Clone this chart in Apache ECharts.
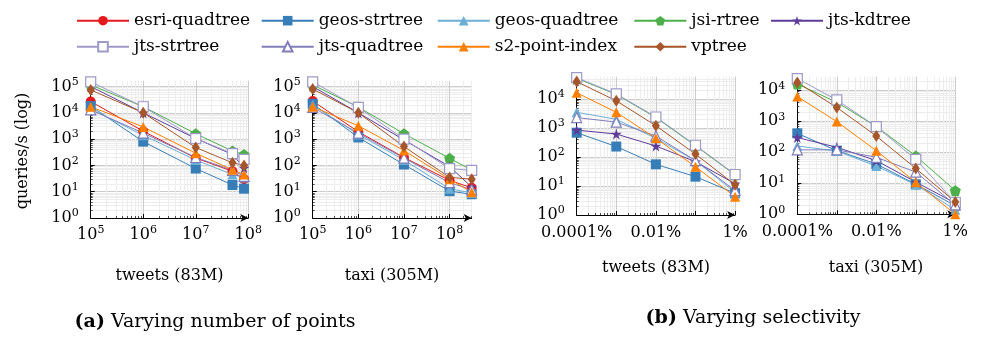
<!DOCTYPE html>
<html><head><meta charset="utf-8">
<script src="https://cdn.jsdelivr.net/npm/echarts@6/dist/echarts.min.js"></script>
<style>html,body{margin:0;padding:0;background:#fff}#c{width:982px;height:337px}</style>
</head><body><div id="c"></div><script>
// ---------------- DATA ----------------
const seriesNames = ['esri-quadtree','geos-strtree','geos-quadtree','jsi-rtree','jts-kdtree','jts-strtree','jts-quadtree','s2-point-index','vptree'];

// (a) varying number of points: x = number of points
const tweetsPointsX = [1e5, 1e6, 1e7, 5e7, 8.3e7];
const taxiPointsX   = [1e5, 1e6, 1e7, 1e8, 3.05e8];
// (b) varying selectivity: x = selectivity in percent
const selectivityX  = [0.0001, 0.001, 0.01, 0.1, 1];

// queries/s, rows in seriesNames order
const tweetsPointsY = [
  [27000, 2000, 190, 60, 30],
  [18000, 800, 76, 18, 13],
  [14000, 1400, 160, 45, 35],
  [115000, 17000, 1600, 350, 260],
  [100000, 10000, 1050, 260, 80],
  [150000, 17000, 1050, 280, 170],
  [13000, 1700, 200, 65, 38],
  [17000, 2900, 290, 68, 45],
  [74000, 10000, 480, 125, 100]
];
const taxiPointsY = [
  [28000, 1900, 200, 27, 14],
  [22000, 1150, 108, 10.5, 8],
  [20000, 1500, 160, 13, 9],
  [115000, 16500, 1600, 186, 67],
  [100000, 10000, 930, 90, 15],
  [150000, 16000, 1000, 75, 65],
  [16000, 1700, 190, 22, 12],
  [17000, 3200, 370, 30, 9.5],
  [80000, 10000, 520, 35, 30]
];
const tweetsSelY = [
  [],
  [690, 230, 56, 21, 5.6],
  [3500, 2000, 440, 75, 6],
  [52000, 14500, 2300, 245, 24],
  [850, 620, 240, 69, 12],
  [55000, 15000, 2400, 255, 25],
  [2300, 1600, 530, 75, 7],
  [16500, 3500, 440, 46, 4.3],
  [40000, 8700, 1200, 126, 11]
];
const taxiSelY = [
  [],
  [410, 113, 42, 9.3, 1.9],
  [160, 110, 36, 9, 1.4],
  [16000, 4100, 680, 76, 5.8],
  [300, 145, 54, 11, 2.3],
  [24000, 4900, 670, 59, 2.4],
  [120, 120, 69, 23, 2.0],
  [6300, 980, 113, 10.8, 1.0],
  [18000, 2800, 335, 30, 2.5]
];
// tick labels
const selTickValues = [0.0001, 0.01, 1];
const selTickLabels = ['0.0001%', '0.01%', '1%'];
const pointsTickValues = [1e5, 1e6, 1e7, 1e8];
const yTickValues = [1, 10, 100, 1000, 10000, 100000];

// ---------------- STYLE ----------------
const FONT = 'DejaVu Serif';
const colors = ['#e41a1c','#377eb8','#6baed6','#4daf4a','#5e3c99','#9e9ac8','#807dba','#ff7f00','#a65628'];
const fills  = ['#e41a1c','#377eb8','#6baed6','#4daf4a','#5e3c99','#ffffff','#ffffff','#ff7f00','#a65628'];
const PENT = 'path://M0,-10L9.51,-3.09L5.88,8.09L-5.88,8.09L-9.51,-3.09Z';
const STAR = 'path://M0,-10L2.245,-3.09L9.51,-3.09L3.633,1.18L5.878,8.09L0,3.82L-5.878,8.09L-3.633,1.18L-9.51,-3.09L-2.245,-3.09Z';
const symbols = ['circle','rect','triangle',PENT,STAR,'rect','triangle','triangle','diamond'];
const sizes = [10,10,10,11,11,10,10,10,[8,12]];

function minorTicks(min, max) {
  const out = [];
  for (let d = Math.floor(Math.log10(min)); d <= Math.ceil(Math.log10(max)); d++) {
    for (let k = 2; k <= 9; k++) {
      const v = k * Math.pow(10, d);
      if (v > min * 1.0001 && v < max * 0.9999) out.push(v);
    }
  }
  return out;
}
function majorTicks(min, max) {
  const out = [];
  for (let d = Math.ceil(Math.log10(min) - 1e-9); d <= Math.floor(Math.log10(max) + 1e-9); d++) out.push(Math.pow(10, d));
  return out;
}
const powFmt = v => '{b|10}{e|' + Math.round(Math.log10(v)) + '}';
const selFmt = v => {
  const n = Math.round(Math.log10(v));
  const i = selTickValues.findIndex(t => Math.round(Math.log10(t)) === n);
  return i >= 0 ? selTickLabels[i] : '';
};
const rich = {
  b: {fontFamily: FONT, fontSize: 16, lineHeight: 20, color: '#000'},
  e: {fontFamily: FONT, fontSize: 11, lineHeight: 11, verticalAlign: 'top', color: '#000'}
};

const panels = [
  {xs: tweetsPointsX, ys: tweetsPointsY, grid: {left: 90.7, top: 80.7, width: 157.6, height: 137.3},
   xMin: 1e5, xMax: 1e8, yMin: 1, yMax: 1.66e5, xLabelVals: pointsTickValues, xFmt: powFmt, xMargin: 7},
  {xs: taxiPointsX, ys: taxiPointsY, grid: {left: 312.7, top: 80.7, width: 159, height: 137.3},
   xMin: 1e5, xMax: 3.05e8, yMin: 1, yMax: 1.66e5, xLabelVals: pointsTickValues, xFmt: powFmt, xMargin: 7},
  {xs: selectivityX, ys: tweetsSelY, grid: {left: 576.7, top: 76.7, width: 158.4, height: 138.3},
   xMin: 0.0001, xMax: 1, yMin: 1, yMax: 5.9e4, xLabelVals: selTickValues, xFmt: selFmt, xMargin: 10},
  {xs: selectivityX, ys: taxiSelY, grid: {left: 797.3, top: 76.7, width: 158, height: 137.6},
   xMin: 0.0001, xMax: 1, yMin: 1, yMax: 2.75e4, xLabelVals: selTickValues, xFmt: selFmt, xMargin: 10}
];

const grids = [], xAxes = [], yAxes = [], series = [];
panels.forEach((p, g) => {
  grids.push(Object.assign({containLabel: false, outerBoundsMode: 'none'}, p.grid));
  // minor axes (light grid + minor ticks)
  xAxes.push({type: 'log', gridIndex: g, position: 'bottom', min: p.xMin, max: p.xMax,
    axisLine: {show: false}, axisLabel: {show: false},
    axisTick: {show: true, inside: true, length: 2, customValues: minorTicks(p.xMin, p.xMax), lineStyle: {color: '#222', width: 0.8}},
    splitLine: {show: true, lineStyle: {color: '#ededed', width: 1}}});
  yAxes.push({type: 'log', gridIndex: g, position: 'left', min: p.yMin, max: p.yMax,
    axisLine: {show: false}, axisLabel: {show: false},
    axisTick: {show: true, inside: true, length: 2, customValues: minorTicks(p.yMin, p.yMax), lineStyle: {color: '#222', width: 0.8}},
    splitLine: {show: true, lineStyle: {color: '#ededed', width: 1}}});
  // major axes
  xAxes.push({type: 'log', gridIndex: g, position: 'bottom', min: p.xMin, max: p.xMax,
    axisLine: {show: true, lineStyle: {color: '#000', width: 1}, symbol: ['none', 'arrow'], symbolSize: [6, 8]},
    axisTick: {show: true, inside: true, length: 4, customValues: majorTicks(p.xMin, p.xMax), lineStyle: {color: '#000'}},
    axisLabel: {customValues: p.xLabelVals, formatter: p.xFmt, margin: p.xMargin, rich: rich,
      fontFamily: FONT, fontSize: 16, color: '#000'},
    splitLine: {show: true, lineStyle: {color: '#cccccc', width: 1}}});
  yAxes.push({type: 'log', gridIndex: g, position: 'left', min: p.yMin, max: p.yMax,
    axisLine: {show: true, lineStyle: {color: '#000', width: 1}, symbol: ['none', 'arrow'], symbolSize: [6, 8]},
    axisTick: {show: true, inside: true, length: 4, customValues: majorTicks(p.yMin, p.yMax), lineStyle: {color: '#000'}},
    axisLabel: {customValues: yTickValues.filter(v => v <= p.yMax), formatter: powFmt, margin: 12, rich: rich,
      fontFamily: FONT, fontSize: 16, color: '#000'},
    splitLine: {show: true, lineStyle: {color: '#cccccc', width: 1}}});
  seriesNames.forEach((name, s) => {
    const ys = p.ys[s];
    series.push({
      name: name, type: 'line', xAxisIndex: 2 * g + 1, yAxisIndex: 2 * g + 1,
      data: ys.map((y, i) => [p.xs[i], y]),
      symbol: symbols[s], symbolSize: sizes[s], showSymbol: true, clip: false,
      lineStyle: {color: colors[s], width: 1},
      itemStyle: {color: fills[s], borderColor: colors[s], borderWidth: (s === 5 || s === 6) ? 1.2 : 0},
      emphasis: {disabled: true}, silent: true, animation: false
    });
  });
});

const legendCols = [[0, 5], [1, 6], [2, 7], [3, 8], [4]];
const legendLefts = [76, 260.7, 436.7, 633.3, 770];
const legends = legendCols.map((col, i) => ({
  data: col.map(k => seriesNames[k]), orient: 'vertical', left: legendLefts[i], top: 10.7,
  itemWidth: 52, itemHeight: 12, itemGap: 6, padding: 0, selectedMode: false,
  textStyle: {fontFamily: FONT, fontSize: 17, color: '#000', lineHeight: 20}
}));

const txt = (text, x, y, size, extra) => Object.assign({type: 'text', x: x, y: y, silent: true,
  style: Object.assign({text: text, font: size + 'px "' + FONT + '"', fill: '#000', align: 'center', verticalAlign: 'middle',
    textAlign: 'center', textVerticalAlign: 'middle'}, extra && extra.style || {})}, extra && extra.el || {});

const capRich = {b: {fontFamily: FONT, fontSize: 19, fontWeight: 'bold', color: '#000'}, n: {fontFamily: FONT, fontSize: 19, color: '#000'}};
const graphic = [
  txt('queries/s (log)', 23, 151, 16, {el: {rotation: Math.PI / 2}}),
  txt('tweets (83M)', 169.5, 276, 16),
  txt('taxi (305M)', 392, 276, 16),
  txt('tweets (83M)', 656, 268, 16),
  txt('taxi (305M)', 876, 268, 16),
  {type: 'text', x: 215, y: 322, silent: true, style: {text: '{b|(a)}{n| Varying number of points}', rich: capRich, align: 'center', verticalAlign: 'middle'}},
  {type: 'text', x: 753, y: 318, silent: true, style: {text: '{b|(b)}{n| Varying selectivity}', rich: capRich, align: 'center', verticalAlign: 'middle'}}
];

const chart = echarts.init(document.getElementById('c'), null, {renderer: 'canvas'});
chart.setOption({
  animation: false, backgroundColor: '#fff',
  grid: grids, xAxis: xAxes, yAxis: yAxes, series: series, legend: legends, graphic: graphic
});
</script></body></html>
